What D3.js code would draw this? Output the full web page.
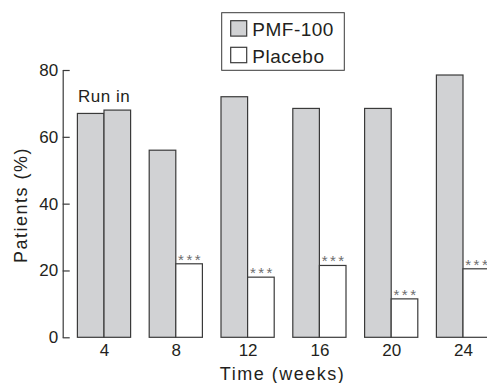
<!DOCTYPE html>
<html>
<head>
<meta charset="utf-8">
<script src="https://cdn.jsdelivr.net/npm/d3@7"></script>
<style>
  body { margin: 0; background: #fff; }
  text { font-family: "Liberation Sans", Arial, Helvetica, sans-serif; fill: #231f20; }
</style>
</head>
<body>
<div id="chart"></div>
<script>
const weeks = [4, 8, 12, 16, 20, 24];
const pmf = [67, 56, 72, 68.5, 68.5, 78.5];
const placebo = [68, 22, 18, 21.5, 11.5, 20.5];
const runIn = [true, false, false, false, false, false];
const yTicks = [0, 20, 40, 60, 80];
const seriesNames = ["PMF-100", "Placebo"];

const W = 487, H = 383;
const grey = "#d1d2d4";
const edge = "#3a3a3a";
const barW = 26.6;

const svg = d3.select("#chart")
    .append("svg")
    .attr("width", W)
    .attr("height", H);

const x = d3.scaleLinear().domain([4, 24]).range([104, 463]);
const y = d3.scaleLinear().domain([0, 80]).range([337.3, 70]);

// y axis, ticks pointing inward
const yAxis = svg.append("g")
    .attr("transform", "translate(62.7,0)")
    .call(d3.axisLeft(y).tickValues(yTicks).tickSizeInner(-7).tickSizeOuter(0).tickPadding(4.5));
yAxis.select(".domain").attr("stroke", edge).attr("stroke-width", 1.2);
yAxis.selectAll(".tick line").attr("stroke", edge).attr("stroke-width", 1.2);
yAxis.selectAll(".tick text")
    .style("font-size", "17px")
    .attr("fill", "#231f20")
    .attr("font-family", null);

// x axis labels only
const xAxis = svg.append("g")
    .attr("transform", `translate(0,${y(0)})`)
    .call(d3.axisBottom(x).tickValues(weeks).tickFormat(d3.format("d")).tickSize(0).tickPadding(7));
xAxis.select(".domain").remove();
xAxis.selectAll(".tick text")
    .style("font-size", "17px")
    .attr("fill", "#231f20")
    .attr("font-family", null);

const rows = weeks.map((w, i) => ({w: w, pmf: pmf[i], placebo: placebo[i], runIn: runIn[i]}));

// PMF-100 bars
svg.selectAll(".bar-pmf")
    .data(rows)
    .enter().append("rect")
    .attr("class", "bar-pmf")
    .attr("x", d => x(d.w) - barW)
    .attr("y", d => y(d.pmf))
    .attr("width", barW)
    .attr("height", d => y(0) - y(d.pmf))
    .attr("fill", grey)
    .attr("stroke", edge)
    .attr("stroke-width", 1.2);

// placebo bars (grey during run in)
svg.selectAll(".bar-pl")
    .data(rows)
    .enter().append("rect")
    .attr("class", "bar-pl")
    .attr("x", d => x(d.w))
    .attr("y", d => y(d.placebo))
    .attr("width", barW)
    .attr("height", d => y(0) - y(d.placebo))
    .attr("fill", d => d.runIn ? grey : "#fff")
    .attr("stroke", edge)
    .attr("stroke-width", 1.2);

// significance stars
svg.selectAll(".stars")
    .data(rows.filter(d => !d.runIn))
    .enter().append("text")
    .attr("class", "stars")
    .attr("x", d => x(d.w) + barW / 2 + 1.5)
    .attr("y", d => y(d.placebo) + 1)
    .attr("text-anchor", "middle")
    .style("font-size", "15px")
    .style("letter-spacing", "2.5px")
    .style("fill", "#6e6e6e")
    .text("***");

svg.append("text")
    .attr("x", 78)
    .attr("y", 101.7)
    .style("font-size", "17px")
    .style("letter-spacing", "0.5px")
    .text("Run in");

// axis titles
svg.append("text")
    .attr("x", 282.5)
    .attr("y", 379.5)
    .attr("text-anchor", "middle")
    .style("font-size", "18px")
    .style("letter-spacing", "1.5px")
    .text("Time (weeks)");

svg.append("text")
    .attr("transform", "translate(27,205) rotate(-90)")
    .attr("text-anchor", "middle")
    .style("font-size", "18px")
    .style("letter-spacing", "1.5px")
    .text("Patients (%)");

// legend
const legend = svg.append("g");
legend.append("rect")
    .attr("x", 221.7)
    .attr("y", 12.7)
    .attr("width", 122.6)
    .attr("height", 57.6)
    .attr("fill", "#fff")
    .attr("stroke", edge)
    .attr("stroke-width", 1);

const items = legend.selectAll(".item")
    .data(seriesNames)
    .enter().append("g")
    .attr("class", "item")
    .attr("transform", (d, i) => `translate(230.7,${20.7 + i * 26.6})`);

items.append("rect")
    .attr("width", 16)
    .attr("height", 15.4)
    .attr("fill", (d, i) => i === 0 ? grey : "#fff")
    .attr("stroke", edge)
    .attr("stroke-width", 1.2);

items.append("text")
    .attr("x", 21.6)
    .attr("y", 15.3)
    .style("font-size", "19px")
    .style("letter-spacing", "0.5px")
    .text(d => d);
</script>
</body>
</html>
